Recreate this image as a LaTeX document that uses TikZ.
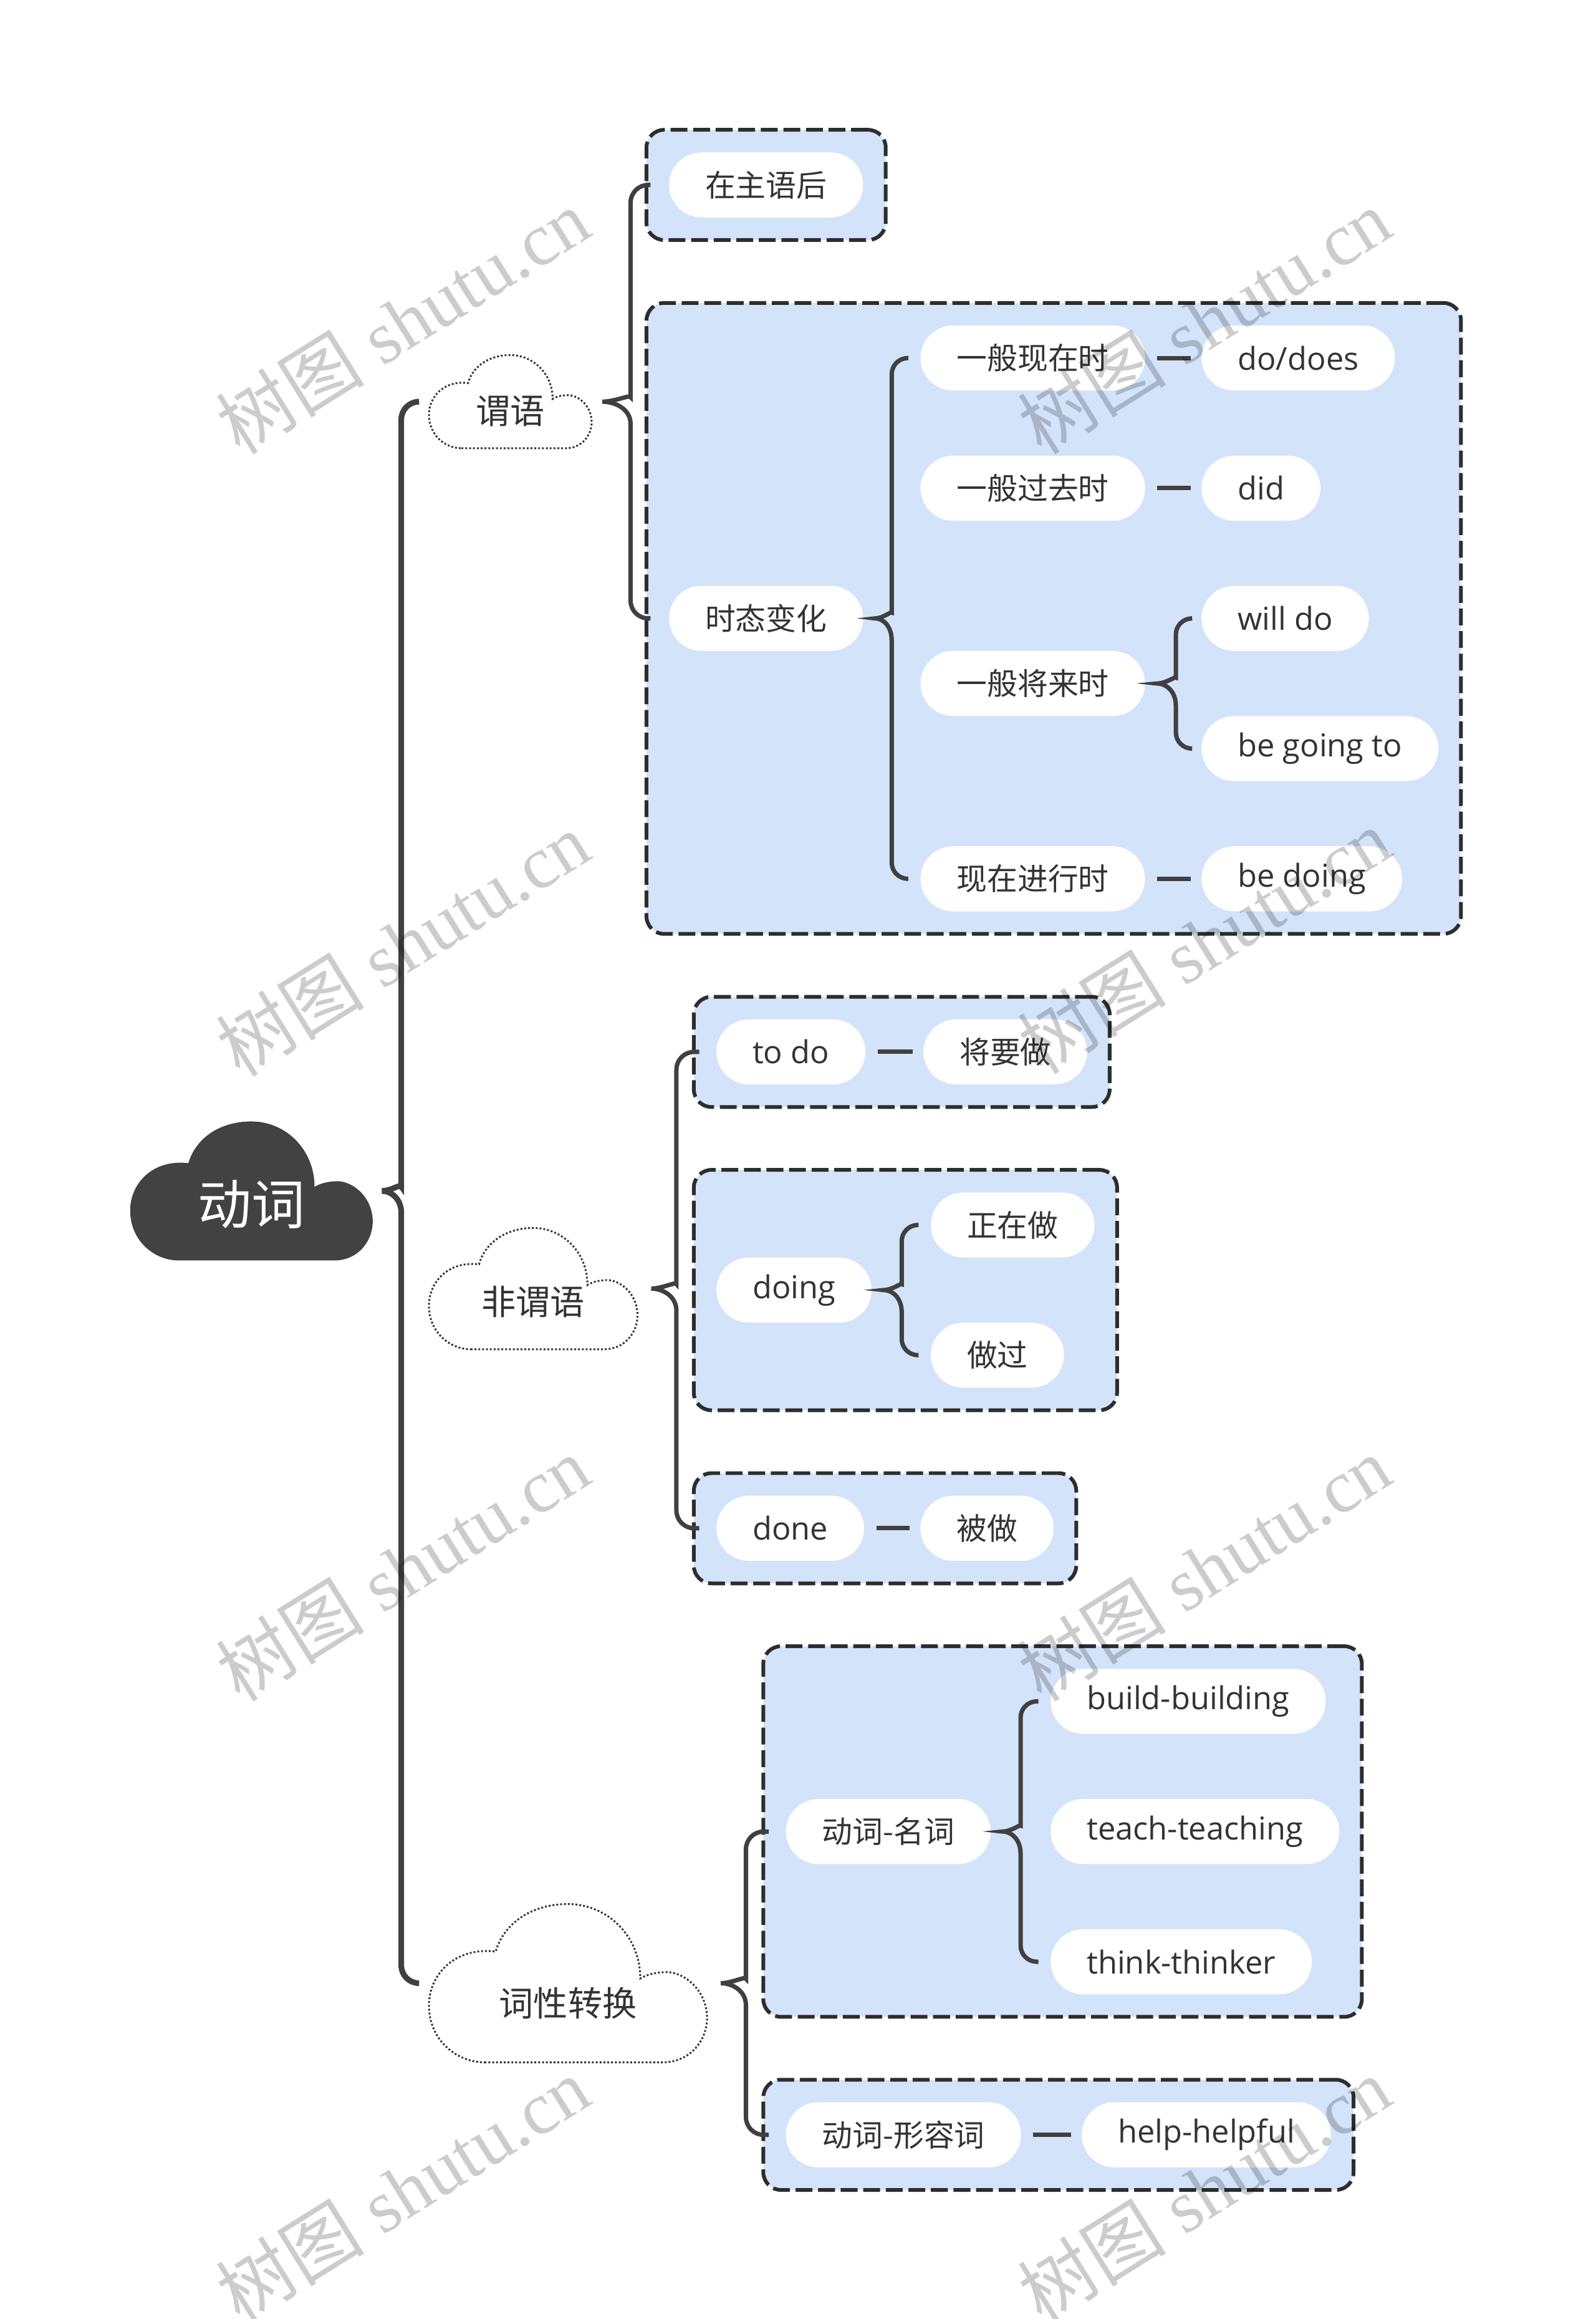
\documentclass[tikz,border=0pt]{standalone}
\usepackage{fontspec}
\setmainfont{Open Sans}
\newfontfamily\cjk{Noto Sans CJK SC}
\newfontfamily\wmserif{Liberation Serif}
\usetikzlibrary{calc,fit,backgrounds}
\definecolor{boxblue}{RGB}{211,227,250}
\definecolor{lnk}{RGB}{64,64,64}
\definecolor{txt}{RGB}{51,51,51}
\definecolor{dashc}{RGB}{45,45,45}
\definecolor{rootfill}{RGB}{66,66,66}
\newcommand\cloudshape[5]{%
 \begin{scope}[shift={(#1,#2)},xscale=#3,yscale=#4]
 \path[#5] (0.2,1) -- (0.84,1) .. controls (0.94,1) and (1,0.86) .. (1,0.72)
 .. controls (1,0.56) and (0.93,0.44) .. (0.86,0.43)
 .. controls (0.81,0.43) and (0.78,0.45) .. (0.76,0.47)
 .. controls (0.76,0.2) and (0.64,0) .. (0.5,0)
 .. controls (0.37,0) and (0.27,0.12) .. (0.24,0.3)
 .. controls (0.09,0.27) and (0,0.45) .. (0,0.64)
 .. controls (0,0.86) and (0.1,1) .. (0.2,1) -- cycle;
 \end{scope}}
\newcommand\brc[6]{%
 \draw[#1] (#4) [rounded corners=#6] -| ($(#2)+(#3,-15)$) [sharp corners]
 .. controls ($(#2)+(#3,-5)$) and ($(#2)+(0.45*#3,0)$) .. (#2)
 .. controls ($(#2)+(0.45*#3,0)$) and ($(#2)+(#3,5)$) .. ($(#2)+(#3,15)$)
 -- ($(#2)+(#3,18)$) [rounded corners=#6] |- (#5);}
\begin{document}
\begin{tikzpicture}[x=0.67507pt,y=-0.67507pt,
 pill/.style={rectangle, rounded corners=14.85pt, fill=white, minimum height=29.7pt, inner xsep=16.5pt, inner ysep=0pt, text=txt, anchor=west, font=\fontsize{14.4pt}{16pt}\selectfont},
 cpill/.style={pill, font=\cjk\fontsize{13.9pt}{16pt}\selectfont},
 grp/.style={rectangle, rounded corners=8.1pt, draw=dashc, line width=1.7pt, dash pattern=on 7.7pt off 2.6pt, fill=boxblue, inner sep=10.1pt},
 cbb/.style={rectangle, inner sep=0pt, draw=none},
 clbl/.style={text=txt, font=\cjk\fontsize{15.7pt}{18pt}\selectfont, inner sep=0pt},
 cloudline/.style={draw=txt, line width=0.85pt, dash pattern=on 0.85pt off 0.9pt, fill=white},
 mainbr/.style={draw=lnk, line width=2.6pt},
 subbr/.style={draw=lnk, line width=2pt},
 tie/.style={draw=lnk, line width=2pt},
 wm/.style={font=\wmserif\fontsize{34pt}{36pt}\selectfont, text=black, text opacity=0.2, rotate=32, inner sep=0pt}
]
\useasboundingbox (0,0) rectangle (1079,1567.5);

% clouds
\node[cbb, minimum width=110.7pt, minimum height=63.46pt] (root) at (170,805) {};
\cloudshape{88}{758}{164}{94}{fill=rootfill}
\node[font=\cjk\fontsize{24.5pt}{28pt}\selectfont, text=white, inner sep=0pt] (rootL) at (170,814) {动词};

\node[cbb, minimum width=74.26pt, minimum height=42.53pt] (wy) at (345,271.5) {};
\cloudshape{290}{240}{110}{63}{cloudline}
\node[clbl] (wyL) at (345,278) {谓语};

\node[cbb, minimum width=95.18pt, minimum height=55.36pt] (fwy) at (360.5,871) {};
\cloudshape{290}{830}{141}{82}{cloudline}
\node[clbl] (fwyL) at (360.5,880) {非谓语};

\node[cbb, minimum width=126.91pt, minimum height=72.23pt] (cx) at (384,1340.5) {};
\cloudshape{290}{1287}{188}{107}{cloudline}
\node[clbl] (cxL) at (384,1354) {词性转换};

% pills
\node[cpill] (zzh) at (452,125) {在主语后};
\node[cpill] (sbt) at (452,418) {时态变化};
\node[cpill] (xz) at (622,242) {一般现在时};
\node[pill] (dd) at (812,242) {do/does};
\node[cpill] (gq) at (622,330) {一般过去时};
\node[pill] (did) at (812,330) {did};
\node[cpill] (jl) at (622,462) {一般将来时};
\node[pill] (wd) at (812,418) {will do};
\node[pill] (bgt) at (812,506) {be going to};
\node[cpill] (jx) at (622,594) {现在进行时};
\node[pill] (bd) at (812,594) {be doing};
\node[pill] (todo) at (484,711) {to do};
\node[cpill] (jyz) at (624,711) {将要做};
\node[pill] (doing) at (484,872) {doing};
\node[cpill] (zzz) at (629,828) {正在做};
\node[cpill] (zg) at (629,916) {做过};
\node[pill] (done) at (484,1033) {done};
\node[cpill] (bz) at (622,1033) {被做};
\node[cpill] (dmc) at (531,1238) {动词-名词};
\node[pill] (bb) at (710,1150) {build-building};
\node[pill] (tt) at (710,1238) {teach-teaching};
\node[pill] (tk) at (710,1326) {think-thinker};
\node[cpill] (dxr) at (531,1443) {动词-形容词};
\node[pill] (hh) at (731,1443) {help-helpful};

\begin{scope}[on background layer]
\fill[white] (0,0) rectangle (1079,1567.5);
\node[grp, fit=(zzh)] (bA) {};
\node[grp, fit=(sbt)(xz)(dd)(gq)(did)(jl)(wd)(bgt)(jx)(bd)] (bB) {};
\node[grp, fit=(todo)(jyz)] (bC) {};
\node[grp, fit=(doing)(zzz)(zg)] (bD) {};
\node[grp, fit=(done)(bz)] (bE) {};
\node[grp, fit=(dmc)(bb)(tt)(tk)] (bF) {};
\node[grp, fit=(dxr)(hh)] (bG) {};
\end{scope}

% braces
\coordinate (t0) at ($(root.east)+(6,0)$);
\brc{mainbr}{t0}{13}{$(wy.west)+(-7,0)$}{$(cx.west)+(-7,0)$}{8.1pt}
\coordinate (t1) at ($(wy.east)+(7,0)$);
\brc{subbr}{t1}{19}{$(bA.west)+(4,0)$}{$(bB.west)+(4,0)$}{8.1pt}
\coordinate (t2) at ($(sbt.east)+(8,0)$);
\brc{subbr}{t2}{11}{$(xz.west)+(-8,0)$}{$(jx.west)+(-8,0)$}{7.4pt}
\coordinate (t3) at ($(jl.east)+(8,0)$);
\brc{subbr}{t3}{12.5}{$(wd.west)+(-7,0)$}{$(bgt.west)+(-7,0)$}{7.4pt}
\coordinate (t4) at ($(fwy.east)+(9,0)$);
\brc{subbr}{t4}{17}{$(bC.west)+(5,0)$}{$(bE.west)+(5,0)$}{8.1pt}
\coordinate (t5) at ($(doing.east)+(8,0)$);
\brc{subbr}{t5}{12}{$(zzz.west)+(-8,0)$}{$(zg.west)+(-8,0)$}{7.4pt}
\coordinate (t6) at ($(cx.east)+(9,0)$);
\brc{subbr}{t6}{17}{$(bF.west)+(5,0)$}{$(bG.west)+(5,0)$}{8.1pt}
\coordinate (t7) at ($(dmc.east)+(8,0)$);
\brc{subbr}{t7}{12}{$(bb.west)+(-8,0)$}{$(tk.west)+(-8,0)$}{7.4pt}

% ties
\draw[tie] ($(xz.east)+(8,0)$) -- ($(dd.west)+(-7,0)$);
\draw[tie] ($(gq.east)+(8,0)$) -- ($(did.west)+(-7,0)$);
\draw[tie] ($(jx.east)+(8,0)$) -- ($(bd.west)+(-7,0)$);
\draw[tie] ($(todo.east)+(8,0)$) -- ($(jyz.west)+(-7,0)$);
\draw[tie] ($(done.east)+(8,0)$) -- ($(bz.west)+(-7,0)$);
\draw[tie] ($(dxr.east)+(8,0)$) -- ($(hh.west)+(-7,0)$);

% watermarks
\node[wm] (wm1) at (272,217) {{\cjk 树图} shutu.cn};
\node[wm] (wm2) at (814,217) {{\cjk 树图} shutu.cn};
\node[wm] (wm3) at (272,638) {{\cjk 树图} shutu.cn};
\node[wm] (wm4) at (814,636) {{\cjk 树图} shutu.cn};
\node[wm] (wm5) at (272,1060) {{\cjk 树图} shutu.cn};
\node[wm] (wm6) at (814,1060) {{\cjk 树图} shutu.cn};
\node[wm] (wm7) at (272,1480) {{\cjk 树图} shutu.cn};
\node[wm] (wm8) at (814,1480) {{\cjk 树图} shutu.cn};
\end{tikzpicture}
\end{document}
